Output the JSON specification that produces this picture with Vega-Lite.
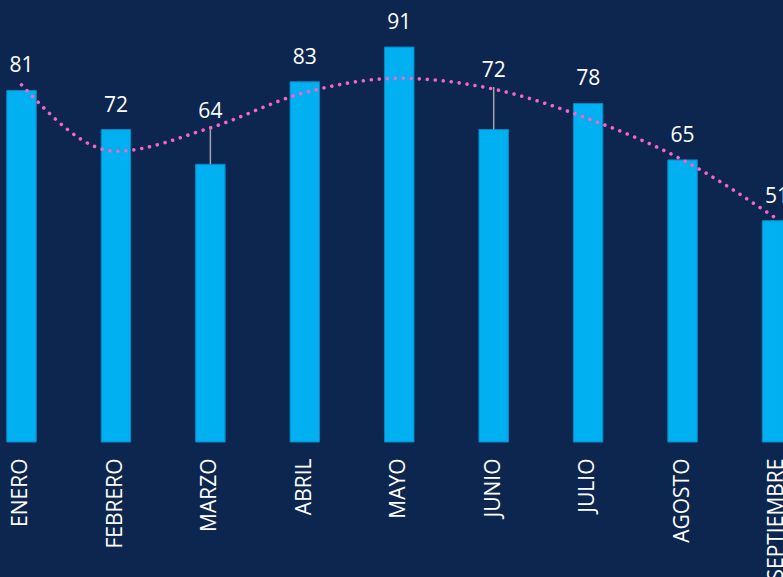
{
  "$schema": "https://vega.github.io/schema/vega-lite/v6.json",
  "width": 783,
  "height": 442,
  "autosize": {"type": "none"},
  "padding": {"left": 0, "top": 0, "right": 0, "bottom": 135},
  "background": "#0C2650",
  "config": {"view": {"stroke": null}, "font": "Open Sans"},
  "data": {
    "values": [
      {"mes": "ENERO", "valor": 81, "tendencia": 82.3},
      {"mes": "FEBRERO", "valor": 72, "tendencia": 67.0},
      {"mes": "MARZO", "valor": 64, "tendencia": 72.4},
      {"mes": "ABRIL", "valor": 83, "tendencia": 80.5},
      {"mes": "MAYO", "valor": 91, "tendencia": 83.8},
      {"mes": "JUNIO", "valor": 72, "tendencia": 81.3},
      {"mes": "JULIO", "valor": 78, "tendencia": 74.5},
      {"mes": "AGOSTO", "valor": 65, "tendencia": 65.0},
      {"mes": "SEPTIEMBRE", "valor": 51, "tendencia": 51.4}
    ]
  },
  "encoding": {
    "x": {
      "field": "mes",
      "type": "nominal",
      "sort": null,
      "scale": {"range": [0, 798.5], "paddingInner": 0.6877, "paddingOuter": 0.0715},
      "axis": {
        "title": null,
        "labelAngle": 270,
        "labelAlign": "right",
        "labelBaseline": "middle",
        "labelPadding": 16,
        "labelColor": "#FFFFFF",
        "labelFontSize": 21,
        "labelFont": "Open Sans",
        "labelBound": false,
        "labelOverlap": false,
        "labelLimit": 0,
        "ticks": false,
        "domain": false,
        "grid": false
      }
    }
  },
  "layer": [
    {
      "mark": {"type": "bar", "color": "#00B0F0", "stroke": "#0A85C2", "strokeWidth": 1},
      "encoding": {
        "y": {"field": "valor", "type": "quantitative", "scale": {"domain": [0, 101.84], "nice": false, "zero": true}, "axis": null}
      }
    },
    {
      "transform": [{"filter": "datum.mes === 'MARZO'"}],
      "mark": {"type": "rule", "color": "#A6A6A6", "strokeWidth": 1.5, "y2Offset": -37},
      "encoding": {
        "y": {"field": "valor", "type": "quantitative", "scale": {"domain": [0, 101.84], "nice": false}, "axis": null},
        "y2": {"field": "valor"}
      }
    },
    {
      "transform": [{"filter": "datum.mes === 'JUNIO'"}],
      "mark": {"type": "rule", "color": "#A6A6A6", "strokeWidth": 1.5, "y2Offset": -42.5},
      "encoding": {
        "y": {"field": "valor", "type": "quantitative", "scale": {"domain": [0, 101.84], "nice": false}, "axis": null},
        "y2": {"field": "valor"}
      }
    },
    {
      "mark": {"type": "line", "interpolate": "monotone", "color": "#F564C8", "strokeWidth": 3.6, "strokeDash": [0.01, 8], "strokeCap": "round"},
      "encoding": {
        "y": {"field": "tendencia", "type": "quantitative", "scale": {"domain": [0, 101.84], "nice": false}, "axis": null}
      }
    },
    {
      "transform": [{"filter": "datum.mes !== 'MARZO' && datum.mes !== 'JUNIO'"}],
      "mark": {"type": "text", "color": "#FFFFFF", "fontSize": 21, "font": "Open Sans", "dy": -18, "baseline": "alphabetic"},
      "encoding": {
        "y": {"field": "valor", "type": "quantitative", "scale": {"domain": [0, 101.84], "nice": false}, "axis": null},
        "text": {"field": "valor", "type": "quantitative"}
      }
    },
    {
      "transform": [{"filter": "datum.mes === 'MARZO'"}],
      "mark": {"type": "text", "color": "#FFFFFF", "fontSize": 21, "font": "Open Sans", "dy": -46, "baseline": "alphabetic"},
      "encoding": {
        "y": {"field": "valor", "type": "quantitative", "scale": {"domain": [0, 101.84], "nice": false}, "axis": null},
        "text": {"field": "valor", "type": "quantitative"}
      }
    },
    {
      "transform": [{"filter": "datum.mes === 'JUNIO'"}],
      "mark": {"type": "text", "color": "#FFFFFF", "fontSize": 21, "font": "Open Sans", "dy": -52.5, "baseline": "alphabetic"},
      "encoding": {
        "y": {"field": "valor", "type": "quantitative", "scale": {"domain": [0, 101.84], "nice": false}, "axis": null},
        "text": {"field": "valor", "type": "quantitative"}
      }
    }
  ]
}
